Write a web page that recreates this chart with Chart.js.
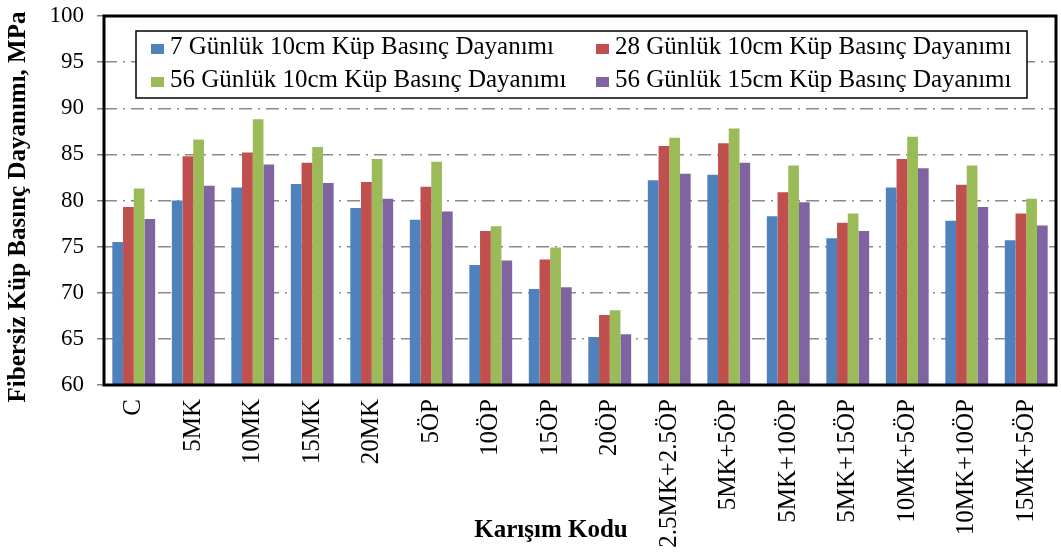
<!DOCTYPE html>
<html>
<head>
<meta charset="utf-8">
<script src="https://cdn.jsdelivr.net/npm/chart.js@4"></script>
<style>
  html, body { margin: 0; padding: 0; background: #fff; }
</style>
</head>
<body>
<canvas id="myChart" width="1061" height="553"></canvas>
<script>
// data
var categories = ['C', '5MK', '10MK', '15MK', '20MK', '5ÖP', '10ÖP', '15ÖP', '20ÖP',
  '2.5MK+2.5ÖP', '5MK+5ÖP', '5MK+10ÖP', '5MK+15ÖP', '10MK+5ÖP', '10MK+10ÖP', '15MK+5ÖP'];
var gun7_10cm  = [75.5, 80.0, 81.4, 81.8, 79.2, 77.9, 73.0, 70.4, 65.2, 82.2, 82.8, 78.3, 75.9, 81.4, 77.8, 75.7];
var gun28_10cm = [79.3, 84.8, 85.2, 84.1, 82.0, 81.5, 76.7, 73.6, 67.6, 85.9, 86.2, 80.9, 77.6, 84.5, 81.7, 78.6];
var gun56_10cm = [81.3, 86.6, 88.8, 85.8, 84.5, 84.2, 77.2, 74.9, 68.1, 86.8, 87.8, 83.8, 78.6, 86.9, 83.8, 80.2];
var gun56_15cm = [78.0, 81.6, 83.9, 81.9, 80.2, 78.8, 73.5, 70.6, 65.5, 82.9, 84.1, 79.8, 76.7, 83.5, 79.3, 77.3];
var seriesNames = ['7 Günlük 10cm Küp Basınç Dayanımı', '28 Günlük 10cm Küp Basınç Dayanımı',
  '56 Günlük 10cm Küp Basınç Dayanımı', '56 Günlük 15cm Küp Basınç Dayanımı'];
var yTicksMin = 60, yTicksMax = 100, yStep = 5;
var xTitle = 'Karışım Kodu';
var yTitle = 'Fibersiz Küp Basınç Dayanımı, MPa';

var colors = ['#4F81BD', '#C0504D', '#9BBB59', '#8064A2'];
var serif = '"Liberation Serif", "Times New Roman", serif';

// frame, boxed legend and axis titles
var extras = {
  id: 'extras',
  afterDraw: function(chart) {
    var ctx = chart.ctx;
    var a = chart.chartArea;
    ctx.save();
    ctx.strokeStyle = '#000';
    ctx.lineWidth = 3;
    ctx.strokeRect(a.left, a.top, a.right - a.left, a.bottom - a.top);

    // legend box
    var lx = a.left + 32, ly = a.top + 15, lw = 891, lh = 67;
    ctx.fillStyle = '#fff';
    ctx.fillRect(lx, ly, lw, lh);
    ctx.lineWidth = 1.5;
    ctx.strokeRect(lx, ly, lw, lh);
    var cols = [lx + 15, lx + 460];
    ctx.font = '25px ' + serif;
    ctx.textBaseline = 'middle';
    ctx.textAlign = 'left';
    chart.data.datasets.forEach(function(ds, i) {
      var x = cols[i % 2];
      var y = ly + 18 + Math.floor(i / 2) * 33;
      ctx.fillStyle = ds.backgroundColor;
      ctx.fillRect(x, y - 5, 13, 10);
      ctx.fillStyle = '#000';
      ctx.fillText(ds.label, x + 19, y - 2);
    });

    // axis titles
    ctx.font = 'bold 25px ' + serif;
    ctx.textAlign = 'center';
    ctx.textBaseline = 'alphabetic';
    ctx.fillText(xTitle, 551, 537);
    ctx.translate(19, 207);
    ctx.rotate(-Math.PI / 2);
    ctx.textBaseline = 'middle';
    ctx.fillText(yTitle, 0, 0);
    ctx.restore();
  }
};

var ctx = document.getElementById('myChart').getContext('2d');
var myChart = new Chart(ctx, {
  type: 'bar',
  data: {
    labels: categories,
    datasets: [gun7_10cm, gun28_10cm, gun56_10cm, gun56_15cm].map(function(d, i) {
      return {
        label: seriesNames[i],
        data: d,
        backgroundColor: colors[i],
        borderWidth: 0,
        categoryPercentage: 0.72,
        barPercentage: 1.0
      };
    })
  },
  options: {
    responsive: false,
    animation: false,
    layout: { padding: { top: 16, right: 5, left: 0, bottom: 0 } },
    plugins: {
      legend: { display: false },
      tooltip: { enabled: false }
    },
    scales: {
      x: {
        grid: { display: false },
        border: { display: false },
        ticks: {
          color: '#000',
          font: { family: serif, size: 25 },
          minRotation: 90,
          maxRotation: 90,
          padding: 6
        },
        afterFit: function(scale) {
          scale.height = 168;
          scale.paddingLeft = 0;
          scale.paddingRight = 0;
        }
      },
      y: {
        min: yTicksMin,
        max: yTicksMax,
        ticks: {
          stepSize: yStep,
          color: '#000',
          font: { family: serif, size: 23 },
          padding: 13
        },
        grid: { color: '#8a8a8a', lineWidth: 1.5, tickLength: 7, tickColor: '#808080' },
        border: { display: false, dash: [13, 6, 2, 6] },
        afterFit: function(scale) {
          scale.width = 104;
          scale.paddingTop = 0;
          scale.paddingBottom = 0;
        }
      }
    }
  },
  plugins: [extras]
});
</script>
</body>
</html>
